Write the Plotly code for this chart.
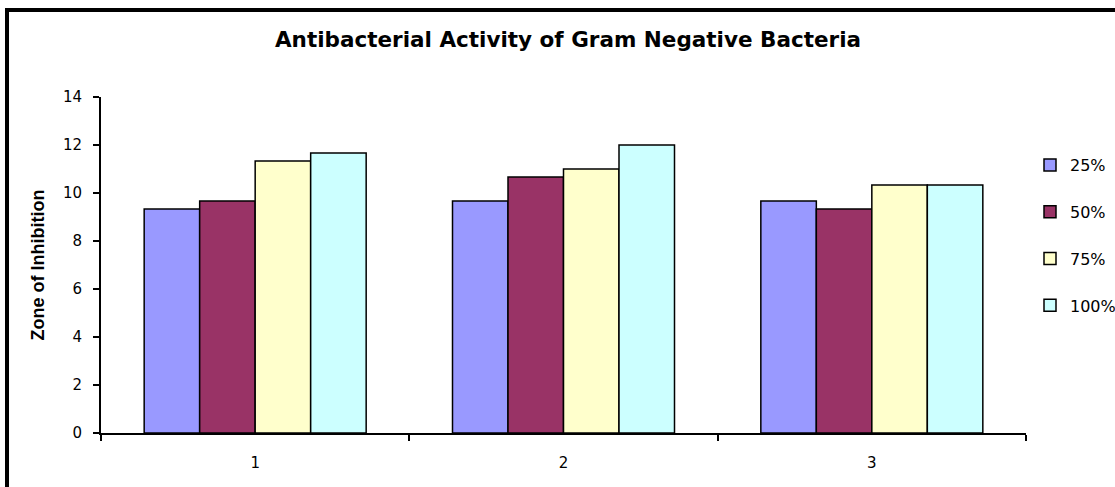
import plotly.graph_objects as go

categories = ["1", "2", "3"]
series_names = ["25%", "50%", "75%", "100%"]
v25 = [9.33, 9.67, 9.67]
v50 = [9.67, 10.67, 9.33]
v75 = [11.33, 11.0, 10.33]
v100 = [11.67, 12.0, 10.33]
colors = ["#9999FF", "#993366", "#FFFFCC", "#CCFFFF"]
y_ticks = [0, 2, 4, 6, 8, 10, 12, 14]

W, H = 1115, 487
L, R, T, B = 101, 89, 97, 54

fig = go.Figure()
for i, (name, vals) in enumerate(zip(series_names, [v25, v50, v75, v100])):
    fig.add_trace(go.Bar(
        x=categories, y=vals, name=name, legendgroup=name,
        marker=dict(color=colors[i], line=dict(color="black", width=1.5)),
    ))

pw = W - L - R
ph = H - T - B
def px_x(p):
    return (p - L) / pw
def px_y(p):
    return (H - B - p) / ph

fig.add_shape(type="rect", xref="paper", yref="paper",
              x0=px_x(7), x1=px_x(1130), y0=px_y(500), y1=px_y(10),
              line=dict(color="black", width=4), layer="above")

fig.update_layout(
    width=W, height=H,
    margin=dict(l=L, r=R, t=T, b=B, autoexpand=False),
    paper_bgcolor="white", plot_bgcolor="white",
    font=dict(family="DejaVu Sans, Arial, sans-serif", color="black", size=15),
    title=dict(text="<b>Antibacterial Activity of Gram Negative Bacteria</b>",
               x=568 / W, xanchor="center", y=1 - 39 / H, yanchor="middle",
               font=dict(size=21.5, family="DejaVu Sans, Arial")),
    barmode="group", bargap=0.28, bargroupgap=0,
    showlegend=True,
    legend=dict(x=px_x(1030), y=px_y(148), xanchor="left", yanchor="top",
                tracegroupgap=23, font=dict(size=16),
                bgcolor="rgba(0,0,0,0)"),
    xaxis=dict(type="category", showline=True, linecolor="black", linewidth=2,
               ticks="outside", tickson="boundaries", ticklen=6, tickwidth=2,
               tickcolor="black", showgrid=False, zeroline=False,
               ticklabelstandoff=15, tickfont=dict(size=15)),
    yaxis=dict(range=[0, 14], tickvals=y_ticks, showline=True, linecolor="black",
               linewidth=2, ticks="outside", ticklen=6, tickwidth=2, tickcolor="black",
               showgrid=False, zeroline=False, tickfont=dict(size=15),
               ticklabelstandoff=8,
               title=dict(text="<b>Zone of Inhibition</b>", standoff=14,
                          font=dict(size=18, family="Liberation Sans, Arial"))),
)

fig.write_html("out.html", post_script="document.body.style.margin='0';",
               config={"displayModeBar": False})
